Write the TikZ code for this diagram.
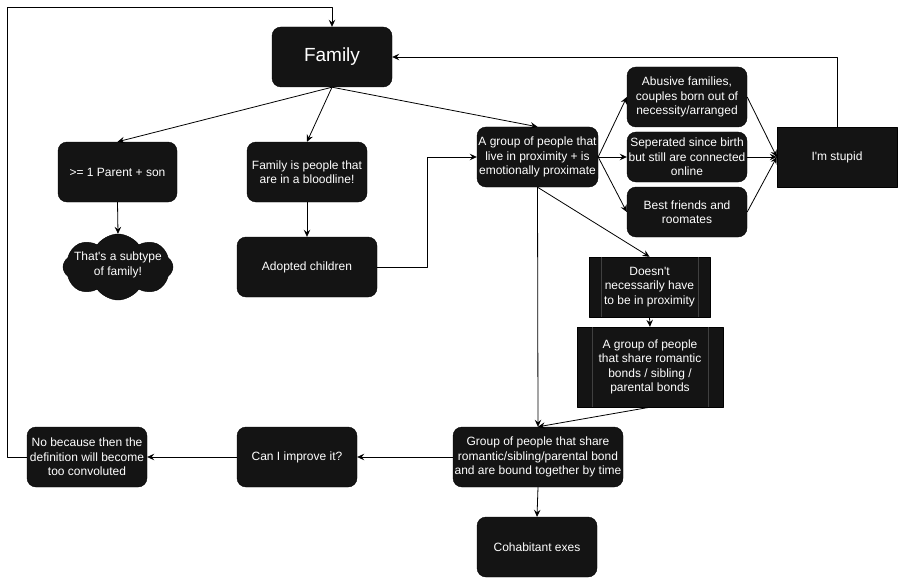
\documentclass[tikz,border=0pt]{standalone}
\usepackage{fontspec}
\setmainfont{Liberation Sans}[Ligatures=TeXOff]
\usetikzlibrary{arrows.meta,shapes.symbols}

\begin{document}
\begin{tikzpicture}[x=1pt,y=-1pt,line join=round,
  box/.style={draw=black,fill=boxc,text=white,rounded corners=9pt,align=center,
    font=\fontsize{12}{14.5}\selectfont,minimum width=120pt,minimum height=60pt,inner sep=1pt},
  sharpbox/.style={box,rounded corners=0pt},
  link/.style={-{Stealth[length=7pt,width=6.5pt,inset=2.5pt]},line width=0.8pt}]
\definecolor{boxc}{RGB}{20,20,20}
\useasboundingbox (0,0) rectangle (898,578);
% top row
\node[box,font=\fontsize{19}{22}\selectfont] (family) at (332,57) {Family};
\node[box,minimum width=119pt] (parent) at (117.5,172) {>= 1 Parent + son};
\node[box] (famis) at (307,172) {Family is people that\\are in a bloodline!};
\node[draw=black,fill=boxc,cloud,cloud puffs=8,cloud puff arc=110,cloud ignores aspect,
  inner sep=0pt,minimum width=110pt,minimum height=66pt] (subtype) at (118,267) {};
\node[align=center,text=white,font=\fontsize{12}{14.5}\selectfont] (subtypetxt) at (118,265) {That's a subtype\\of family!};
\node[box,minimum width=140pt] (adopt) at (307,267) {Adopted children};
\node[box,minimum width=121pt] (group) at (537.5,157) {A group of people that\\live in proximity + is\\emotionally proximate};
% examples on the right
\node[box] (abusive) at (687,97) {Abusive families,\\couples born out of\\necessity/arranged};
\node[box,minimum height=50pt] (sep) at (687,157) {Seperated since birth\\but still are connected\\online};
\node[box,minimum height=50pt] (best) at (687,212) {Best friends and\\roomates};
\node[sharpbox] (stupid) at (837,157) {I'm stupid};
% process boxes
\node[sharpbox,minimum width=121pt] (doesnt) at (649.5,287) {Doesn't\\necessarily have\\to be in proximity};
\node[sharpbox,minimum width=146pt,minimum height=80pt] (bonds) at (650,367) {A group of people\\that share romantic\\bonds / sibling /\\parental bonds};
\foreach \n/\d in {doesnt/12,bonds/15}{
  \draw[black!75] ([xshift=\d pt]\n.north west) -- ([xshift=\d pt]\n.south west);
  \draw[black!75] ([xshift=-\d pt]\n.north east) -- ([xshift=-\d pt]\n.south east);}
% bottom row
\node[box,minimum width=170pt] (share) at (538,457) {Group of people that share\\romantic/sibling/parental bond\\and are bound together by time};
\node[box] (cohab) at (537,547) {Cohabitant exes};
\node[box] (improve) at (297,457) {Can I improve it?};
\node[box] (nob) at (87,457) {No because then the\\definition will become\\too convoluted};
\coordinate (loopc) at (7,7);
\coordinate (adoptc) at (427,267);
% connectors
\draw[link] (family.south) -- (parent.north);
\draw[link] (family.south) -- (famis.north);
\draw[link] (family.south) -- (group.north);
\draw[link] (parent.south) -- (subtype.north);
\draw[link] (famis.south) -- (adopt.north);
\draw[link] (adopt.east) -- (adoptc) |- (group.west);
\foreach \t in {abusive,sep,best}{
  \draw[link] (group.east) -- (\t.west);
  \draw[link] (\t.east) -- (stupid.west);}
\draw[link] (stupid.north) |- (family.east);
\draw[link] (group.south) -- (doesnt.north);
\draw[link] (group.south) -- (share.north);
\draw[link] (doesnt.south) -- (bonds.north);
\draw[link] (bonds.south) -- (share.north);
\draw[link] (share.south) -- (cohab.north);
\draw[link] (share.west) -- (improve.east);
\draw[link] (improve.west) -- (nob.east);
\draw[link] (nob.west) -| (loopc) -| (family.north);
\end{tikzpicture}
\end{document}
